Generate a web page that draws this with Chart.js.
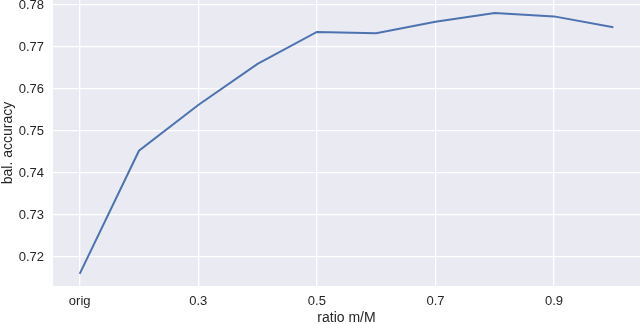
<!DOCTYPE html>
<html lang="en">
<head>
<meta charset="UTF-8">
<title>bal. accuracy vs ratio</title>
<script src="https://cdn.jsdelivr.net/npm/chart.js"></script>
<style>
  html, body { margin: 0; padding: 0; background: #fff; }
  #wrap { width: 640px; height: 324px; }
</style>
</head>
<body>
<div id="wrap"><canvas id="myChart" width="640" height="324"></canvas></div>
<script>
// data
var ratios = [0.1, 0.2, 0.3, 0.4, 0.5, 0.6, 0.7, 0.8, 0.9, 1.0];
var accuracy = [0.7160, 0.7453, 0.7562, 0.7660, 0.7736, 0.7733, 0.7760, 0.7781, 0.7773, 0.7747];

var xTicks = [0.1, 0.3, 0.5, 0.7, 0.9];
var xTickLabels = ['orig', '0.3', '0.5', '0.7', '0.9'];
var yTicks = [0.72, 0.73, 0.74, 0.75, 0.76, 0.77, 0.78];

var tickFont = { family: 'Liberation Sans, Arial, sans-serif', size: 13 };
var titleFont = { family: 'Liberation Sans, Arial, sans-serif', size: 14 };
var ink = '#262626';

// seaborn-like grey panel behind the grid
var panelBg = {
    id: 'panelBg',
    beforeDraw: function (chart) {
        var a = chart.chartArea;
        var ctx = chart.ctx;
        ctx.save();
        ctx.fillStyle = '#EAEAF2';
        ctx.fillRect(a.left, a.top, a.right - a.left, a.bottom - a.top);
        ctx.restore();
    }
};

var points = ratios.map(function (r, i) { return { x: r, y: accuracy[i] }; });

new Chart(document.getElementById('myChart'), {
    type: 'line',
    data: {
        datasets: [{
            data: points,
            borderColor: '#4C72B0',
            borderWidth: 2,
            pointRadius: 0,
            tension: 0,
            fill: false
        }]
    },
    options: {
        responsive: false,
        animation: false,
        events: [],
        layout: { padding: 0 },
        plugins: { legend: { display: false }, tooltip: { enabled: false } },
        scales: {
            x: {
                type: 'linear',
                min: 0.055,
                max: 1.045,
                afterBuildTicks: function (s) { s.ticks = xTicks.map(function (v) { return { value: v }; }); },
                afterFit: function (s) { s.height = 38; s.paddingLeft = 0; s.paddingRight = 0; },
                grid: { color: '#ffffff', lineWidth: 1.3, drawTicks: false },
                border: { display: false },
                ticks: {
                    padding: 8,
                    color: ink,
                    font: tickFont,
                    maxRotation: 0,
                    callback: function (v) {
                        var i = xTicks.findIndex(function (t) { return Math.abs(t - v) < 1e-9; });
                        return i >= 0 ? xTickLabels[i] : '';
                    }
                },
                title: { display: true, text: 'ratio m/M', color: ink, font: titleFont, padding: { top: 0, bottom: -3 } }
            },
            y: {
                min: 0.7131,
                max: 0.7812,
                afterBuildTicks: function (s) { s.ticks = yTicks.map(function (v) { return { value: v }; }); },
                afterFit: function (s) { s.width = 53; s.paddingTop = 0; s.paddingBottom = 0; },
                grid: { color: '#ffffff', lineWidth: 1.3, drawTicks: false },
                border: { display: false },
                ticks: {
                    padding: 9,
                    color: ink,
                    font: tickFont,
                    callback: function (v) { return v.toFixed(2); }
                },
                title: { display: true, text: 'bal. accuracy', color: ink, font: titleFont, padding: { top: 0, bottom: 0 } }
            }
        }
    },
    plugins: [panelBg]
});
</script>
</body>
</html>
